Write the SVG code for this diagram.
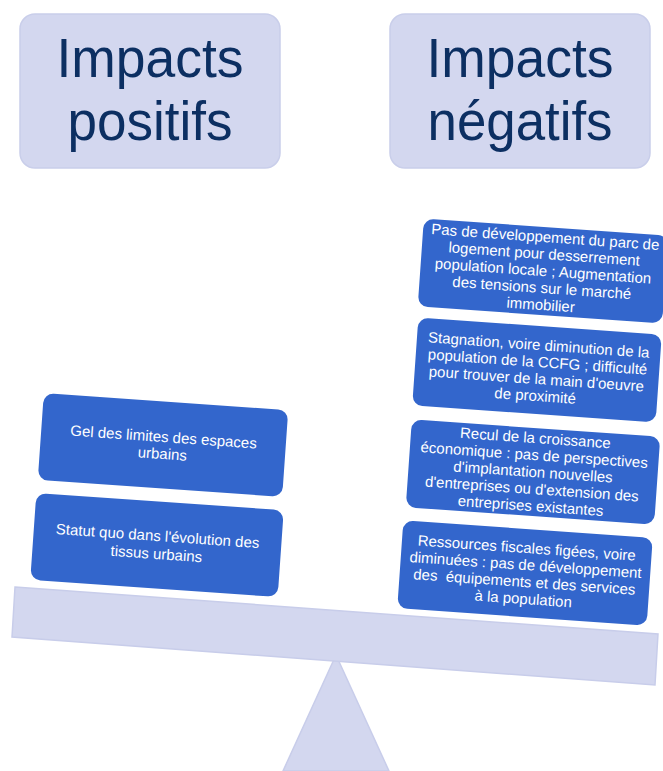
<svg xmlns="http://www.w3.org/2000/svg" width="663" height="771" viewBox="0 0 663 771">
<style>
.hdr{fill:#D3D7EF;stroke:#C9CEEA;stroke-width:1.5}
.ht{font-family:"Liberation Sans",Arial,sans-serif;font-size:56px;fill:#0C2F62;text-anchor:middle}
.bx{fill:#3366CC}
.bt{font-family:"Liberation Sans",Arial,sans-serif;font-size:15px;fill:#FFFFFF;text-anchor:middle}
.sc{fill:#D3D7EF;stroke:#C8CDEA;stroke-width:1.5}
</style>
<g id="scale">
<polygon class="sc" points="336,655 389,771 283,771"/>
<polygon class="sc" points="15,587 658,634 655,685 12,637"/>
</g>
<g id="connectors"></g>
<g id="hdr-positifs">
<rect class="hdr" x="20" y="14" width="260" height="154" rx="15"/>
<text class="ht" x="150" y="77" textLength="187" lengthAdjust="spacingAndGlyphs">Impacts</text>
<text class="ht" x="150" y="140" textLength="165" lengthAdjust="spacingAndGlyphs">positifs</text>
</g>
<g id="hdr-negatifs">
<rect class="hdr" x="390" y="14" width="260" height="154" rx="15"/>
<text class="ht" x="520" y="77" textLength="187" lengthAdjust="spacingAndGlyphs">Impacts</text>
<text class="ht" x="520" y="140" textLength="185" lengthAdjust="spacingAndGlyphs">négatifs</text>
</g>
<g id="pos1" transform="translate(163,445) rotate(4)">
<rect class="bx" x="-122.5" y="-43.5" width="245" height="87" rx="10"/>
<text class="bt" x="0" y="-3">Gel des limites des espaces</text>
<text class="bt" x="0" y="14">urbains</text>
</g>
<g id="pos2" transform="translate(157,545) rotate(4)">
<rect class="bx" x="-124" y="-43.5" width="248" height="87" rx="10"/>
<text class="bt" x="0" y="-4">Statut quo dans l'évolution des</text>
<text class="bt" x="0" y="14">tissus urbains</text>
</g>
<g id="neg1" transform="translate(543,271) rotate(4)">
<rect class="bx" x="-122.5" y="-44" width="245" height="88" rx="10"/>
<text class="bt" x="0" y="-29">Pas de développement du parc de</text>
<text class="bt" x="0" y="-12">logement pour desserrement</text>
<text class="bt" x="0" y="5">population locale ; Augmentation</text>
<text class="bt" x="0" y="22">des tensions sur le marché</text>
<text class="bt" x="0" y="39">immobilier</text>
</g>
<g id="neg2" transform="translate(537,370) rotate(4)">
<rect class="bx" x="-122" y="-44" width="244" height="88" rx="10"/>
<text class="bt" x="0" y="-20">Stagnation, voire diminution de la</text>
<text class="bt" x="0" y="-3">population de la CCFG ; difficulté</text>
<text class="bt" x="0" y="14">pour trouver de la main d'oeuvre</text>
<text class="bt" x="0" y="31">de proximité</text>
</g>
<g id="neg3" transform="translate(533,472) rotate(4)">
<rect class="bx" x="-124.5" y="-44" width="249" height="88" rx="10"/>
<text class="bt" x="0" y="-29">Recul de la croissance</text>
<text class="bt" x="0" y="-12">économique : pas de perspectives</text>
<text class="bt" x="0" y="5">d'implantation nouvelles</text>
<text class="bt" x="0" y="22">d'entreprises ou d'extension des</text>
<text class="bt" x="0" y="39">entreprises existantes</text>
</g>
<g id="neg4" transform="translate(525,573) rotate(4)">
<rect class="bx" x="-125" y="-44" width="250" height="88" rx="10"/>
<text class="bt" x="0" y="-20">Ressources fiscales figées, voire</text>
<text class="bt" x="0" y="-3">diminuées : pas de développement</text>
<text class="bt" x="0" y="14" style="white-space:pre">des  équipements et des services</text>
<text class="bt" x="0" y="31">à la population</text>
</g>
</svg>
